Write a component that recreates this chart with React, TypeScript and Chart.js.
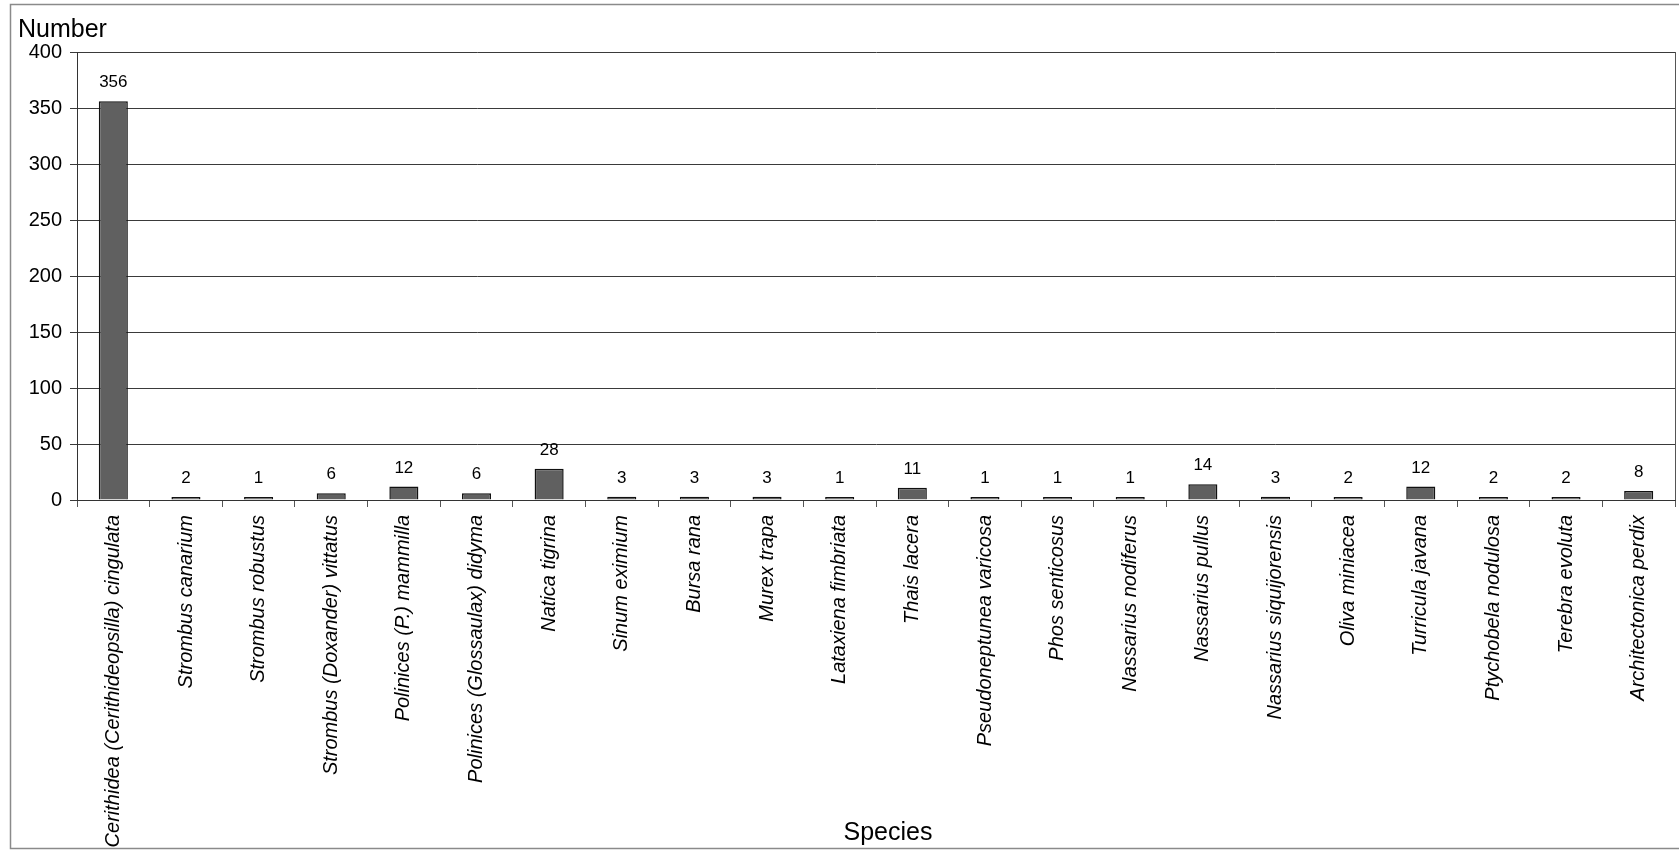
import React, { useEffect, useRef } from "react";
import { Chart, registerables } from "chart.js";

Chart.register(...registerables);

const categories: string[] = [
  "Cerithidea (Cerithideopsilla) cingulata",
  "Strombus canarium",
  "Strombus robustus",
  "Strombus (Doxander) vittatus",
  "Polinices (P.) mammilla",
  "Polinices (Glossaulax) didyma",
  "Natica tigrina",
  "Sinum eximium",
  "Bursa rana",
  "Murex trapa",
  "Lataxiena fimbriata",
  "Thais lacera",
  "Pseudoneptunea varicosa",
  "Phos senticosus",
  "Nassarius nodiferus",
  "Nassarius pullus",
  "Nassarius siquijorensis",
  "Oliva miniacea",
  "Turricula javana",
  "Ptychobela nodulosa",
  "Terebra evoluta",
  "Architectonica perdix",
];

const counts: number[] = [356, 2, 1, 6, 12, 6, 28, 3, 3, 3, 1, 11, 1, 1, 1, 14, 3, 2, 12, 2, 2, 8];

const yTicks: number[] = [0, 50, 100, 150, 200, 250, 300, 350, 400];

const yTitle = "Number";
const xTitle = "Species";

const FONT = "'Liberation Sans', Arial, sans-serif";

export default function App() {
  const ref = useRef<HTMLCanvasElement | null>(null);

  useEffect(() => {
    if (!ref.current) return;

    const decor = {
      id: "decor",
      afterDraw(chart: any) {
        const ctx = chart.ctx;
        const area = chart.chartArea;
        ctx.save();
        // outer frame
        ctx.strokeStyle = "#8a8a8a";
        ctx.lineWidth = 1.5;
        ctx.strokeRect(10.5, 4.5, 1720, 844);
        // right border of plot
        ctx.strokeStyle = "#555";
        ctx.lineWidth = 1;
        ctx.beginPath();
        ctx.moveTo(Math.round(area.right) + 0.5, area.top);
        ctx.lineTo(Math.round(area.right) + 0.5, area.bottom);
        ctx.stroke();
        // titles
        ctx.fillStyle = "#000";
        ctx.font = `25px ${FONT}`;
        ctx.textAlign = "left";
        ctx.textBaseline = "alphabetic";
        ctx.fillText(yTitle, 18, 37);
        ctx.textAlign = "center";
        ctx.fillText(xTitle, 888, 840);
        // data labels
        const meta = chart.getDatasetMeta(0);
        ctx.font = `17px ${FONT}`;
        ctx.textAlign = "center";
        meta.data.forEach((bar: any, i: number) => {
          ctx.fillText(String(counts[i]), bar.x, bar.y - 14);
        });
        ctx.restore();
      },
    };

    const chart = new Chart(ref.current, {
      type: "bar",
      data: {
        labels: categories,
        datasets: [
          {
            data: counts,
            backgroundColor: "#606060",
            borderColor: "#111",
            borderWidth: 1.5,
            minBarLength: 3,
            categoryPercentage: 1,
            barPercentage: 0.4,
          },
        ],
      },
      options: {
        animation: false,
        responsive: true,
        maintainAspectRatio: false,
        devicePixelRatio: 1,
        layout: { padding: { left: 0, top: 52, right: 4, bottom: 0 } },
        plugins: {
          legend: { display: false },
          tooltip: { enabled: false },
        },
        scales: {
          x: {
            offset: true,
            grid: {
              offset: true,
              drawOnChartArea: false,
              drawTicks: true,
              tickLength: 7,
              color: "#555",
            },
            border: { color: "#333", width: 1 },
            ticks: {
              autoSkip: false,
              maxRotation: 90,
              minRotation: 90,
              padding: 8,
              color: "#000",
              font: { family: FONT, size: 20, style: "italic" },
            },
            afterFit(scale: any) {
              scale.height = 351;
            },
          },
          y: {
            min: 0,
            max: 400,
            afterBuildTicks(scale: any) {
              scale.ticks = yTicks.map((v) => ({ value: v }));
            },
            grid: {
              color: "#3a3a3a",
              drawTicks: true,
              tickLength: 7,
            },
            border: { color: "#333", width: 1 },
            ticks: {
              padding: 8,
              color: "#000",
              font: { family: FONT, size: 20 },
            },
            afterFit(scale: any) {
              scale.width = 77;
            },
          },
        },
      },
      plugins: [decor],
    });

    return () => chart.destroy();
  }, []);

  return (
    <div style={{ position: "fixed", left: 0, top: 0, width: "1679px", height: "851px", background: "#fff" }}>
      <canvas ref={ref} style={{ display: "block" }} />
    </div>
  );
}
